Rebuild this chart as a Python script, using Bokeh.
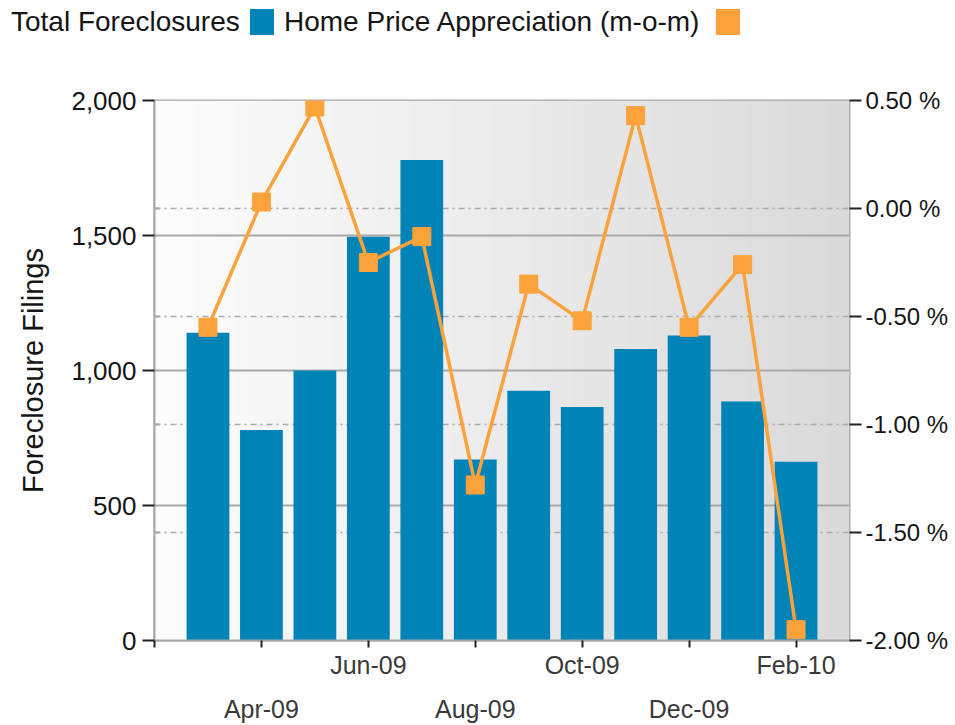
import numpy as np
from bokeh.plotting import figure
from bokeh.layouts import column
from bokeh.models import (Range1d, LinearAxis, FixedTicker, NumeralTickFormatter,
                          PrintfTickFormatter, Grid, Div)
from bokeh.embed import file_html
from bokeh.resources import INLINE

# ---------------- data ----------------
months = ["Mar-09", "Apr-09", "May-09", "Jun-09", "Jul-09", "Aug-09",
          "Sep-09", "Oct-09", "Nov-09", "Dec-09", "Jan-10", "Feb-10"]
foreclosures = [1140, 780, 1000, 1495, 1780, 670, 925, 865, 1080, 1130, 885, 662]
hpa_pct = [-0.55, 0.03, 0.47, -0.25, -0.13, -1.28, -0.35, -0.52, 0.43, -0.55, -0.26, -1.95]
left_ticks = [0, 500, 1000, 1500, 2000]
right_ticks = [-2.0, -1.5, -1.0, -0.5, 0.0, 0.5]
top_row_idx = [3, 7, 11]      # Jun-09, Oct-09, Feb-10
bottom_row_idx = [1, 5, 9]    # Apr-09, Aug-09, Dec-09
legend_labels = ["Total Foreclosures", "Home Price Appreciation (m-o-m)"]

BLUE = "#0083B7"
ORANGE = "#FBA23B"
FONT = "Liberation Sans"
TXT = "#151515"

idx = list(range(len(months)))
x0, x1 = -1, len(months)
y0, y1 = 0, 2000
p0, p1 = -2.0, 0.5

LEG_H = 60
FRAME_W, FRAME_H = 695, 540

p = figure(frame_width=FRAME_W, frame_height=FRAME_H, output_backend="svg",
           toolbar_location=None,
           x_range=Range1d(x0, x1), y_range=Range1d(y0, y1),
           min_border_left=154, min_border_right=90, min_border_top=100 - LEG_H,
           min_border_bottom=70)
p.extra_y_ranges = {"pct": Range1d(p0, p1)}
p.outline_line_color = "#a6a6a6"
p.outline_line_width = 2
p.background_fill_color = "white"
p.border_fill_color = "white"

# gradient background of the plot area
n = 256
t = np.linspace(0, 1, n)
g = (253 - 35 * t).astype(np.uint8)
img = np.empty((1, n), dtype=np.uint32)
view = img.view(dtype=np.uint8).reshape((1, n, 4))
view[0, :, 0] = g
view[0, :, 1] = g
view[0, :, 2] = g
view[0, :, 3] = 255
p.image_rgba(image=[img], x=x0, y=y0, dw=x1 - x0, dh=y1 - y0, level="image")

# grids
p.xgrid.visible = False
p.ygrid.ticker = FixedTicker(ticks=left_ticks)
p.ygrid.grid_line_color = "#a8a8a8"
p.ygrid.grid_line_width = 2
pct_grid = Grid(dimension=1, ticker=FixedTicker(ticks=right_ticks), y_range_name="pct",
                grid_line_color="#ababab", grid_line_dash="dashdot", grid_line_width=1.5)
p.add_layout(pct_grid)

# bars and line
p.vbar(x=idx, top=foreclosures, width=0.8, fill_color=BLUE, line_color=None)
p.line(idx, hpa_pct, y_range_name="pct", line_color=ORANGE, line_width=3.5)
p.scatter(idx, hpa_pct, y_range_name="pct", marker="square", size=18,
          fill_color=ORANGE, line_color=ORANGE)

# left axis (small inner marks where the % grid lines meet it)
pct_on_left = [(v - p0) / (p1 - p0) * (y1 - y0) + y0 for v in right_ticks[1:-1]]
ya = p.yaxis[0]
ya.ticker = FixedTicker(ticks=left_ticks, minor_ticks=pct_on_left)
ya.formatter = NumeralTickFormatter(format="0,0")
ya.axis_label = "Foreclosure Filings"
ya.axis_label_text_font = FONT
ya.axis_label_text_font_size = "29px"
ya.axis_label_text_font_style = "normal"
ya.axis_label_text_color = TXT
ya.axis_label_standoff = 19
ya.major_label_text_font = FONT
ya.major_label_text_font_size = "26px"
ya.major_label_text_color = TXT
ya.major_label_standoff = 6
ya.axis_line_color = "#a6a6a6"
ya.axis_line_width = 2
ya.major_tick_line_color = "#222222"
ya.major_tick_line_width = 2
ya.major_tick_out = 12
ya.major_tick_in = 0
ya.minor_tick_line_color = "#a6a6a6"
ya.minor_tick_line_width = 2
ya.minor_tick_in = 5
ya.minor_tick_out = 0

# right axis
ra = LinearAxis(y_range_name="pct", ticker=FixedTicker(ticks=right_ticks),
                formatter=PrintfTickFormatter(format="%.2f %%"))
ra.major_label_text_font = FONT
ra.major_label_text_font_size = "24px"
ra.major_label_text_color = TXT
ra.major_label_standoff = 4
ra.axis_line_color = None
ra.major_tick_line_color = "#222222"
ra.major_tick_line_width = 2
ra.major_tick_out = 12
ra.major_tick_in = 0
ra.minor_tick_line_color = None
p.add_layout(ra, "right")

# bottom axes (two staggered rows of month labels)
xa = p.xaxis[0]
xa.ticker = FixedTicker(ticks=[x0] + sorted(top_row_idx + bottom_row_idx))
overrides = {x0: ""}
for i in bottom_row_idx:
    overrides[i] = ""
for i in top_row_idx:
    overrides[i] = months[i]
xa.major_label_overrides = overrides
xa.major_label_text_font = FONT
xa.major_label_text_font_size = "25px"
xa.major_label_text_color = "#3a3a3a"
xa.major_label_standoff = 3
xa.axis_line_color = "#a6a6a6"
xa.axis_line_width = 2
xa.major_tick_line_color = "#222222"
xa.major_tick_line_width = 2
xa.major_tick_out = 7
xa.major_tick_in = 0
xa.minor_tick_line_color = None

xb = LinearAxis(ticker=FixedTicker(ticks=bottom_row_idx),
                major_label_overrides={i: months[i] for i in bottom_row_idx})
xb.major_label_text_font = FONT
xb.major_label_text_font_size = "25px"
xb.major_label_text_color = "#3a3a3a"
xb.major_label_standoff = 13
xb.axis_line_color = None
xb.major_tick_line_color = None
xb.major_tick_out = 0
xb.major_tick_in = 0
xb.minor_tick_line_color = None
p.add_layout(xb, "below")

# ---------------- legend strip above the chart ----------------
TOTAL_W = 154 + FRAME_W + 98
text_x = [11, 284]
swatch_x = [250, 716]
swatch_colors = [BLUE, ORANGE]
parts = []
for lbl, tx, sx, col in zip(legend_labels, text_x, swatch_x, swatch_colors):
    parts.append(
        f'<span style="position:absolute;left:{tx}px;top:7px;line-height:30px;'
        f'white-space:nowrap">{lbl}</span>'
        f'<span style="position:absolute;left:{sx}px;top:9px;width:24px;height:26px;'
        f'background:{col}"></span>')
legend_html = (f'<div style="position:relative;width:{TOTAL_W}px;height:{LEG_H}px;'
               f'font-family:\'{FONT}\';font-size:28px;color:{TXT}">'
               + "".join(parts) + '</div>')
leg = Div(text=legend_html, width=TOTAL_W, height=LEG_H, margin=(0, 0, 0, 0))

layout = column(leg, p, spacing=0)
open("out.html", "w").write(file_html(layout, INLINE))
